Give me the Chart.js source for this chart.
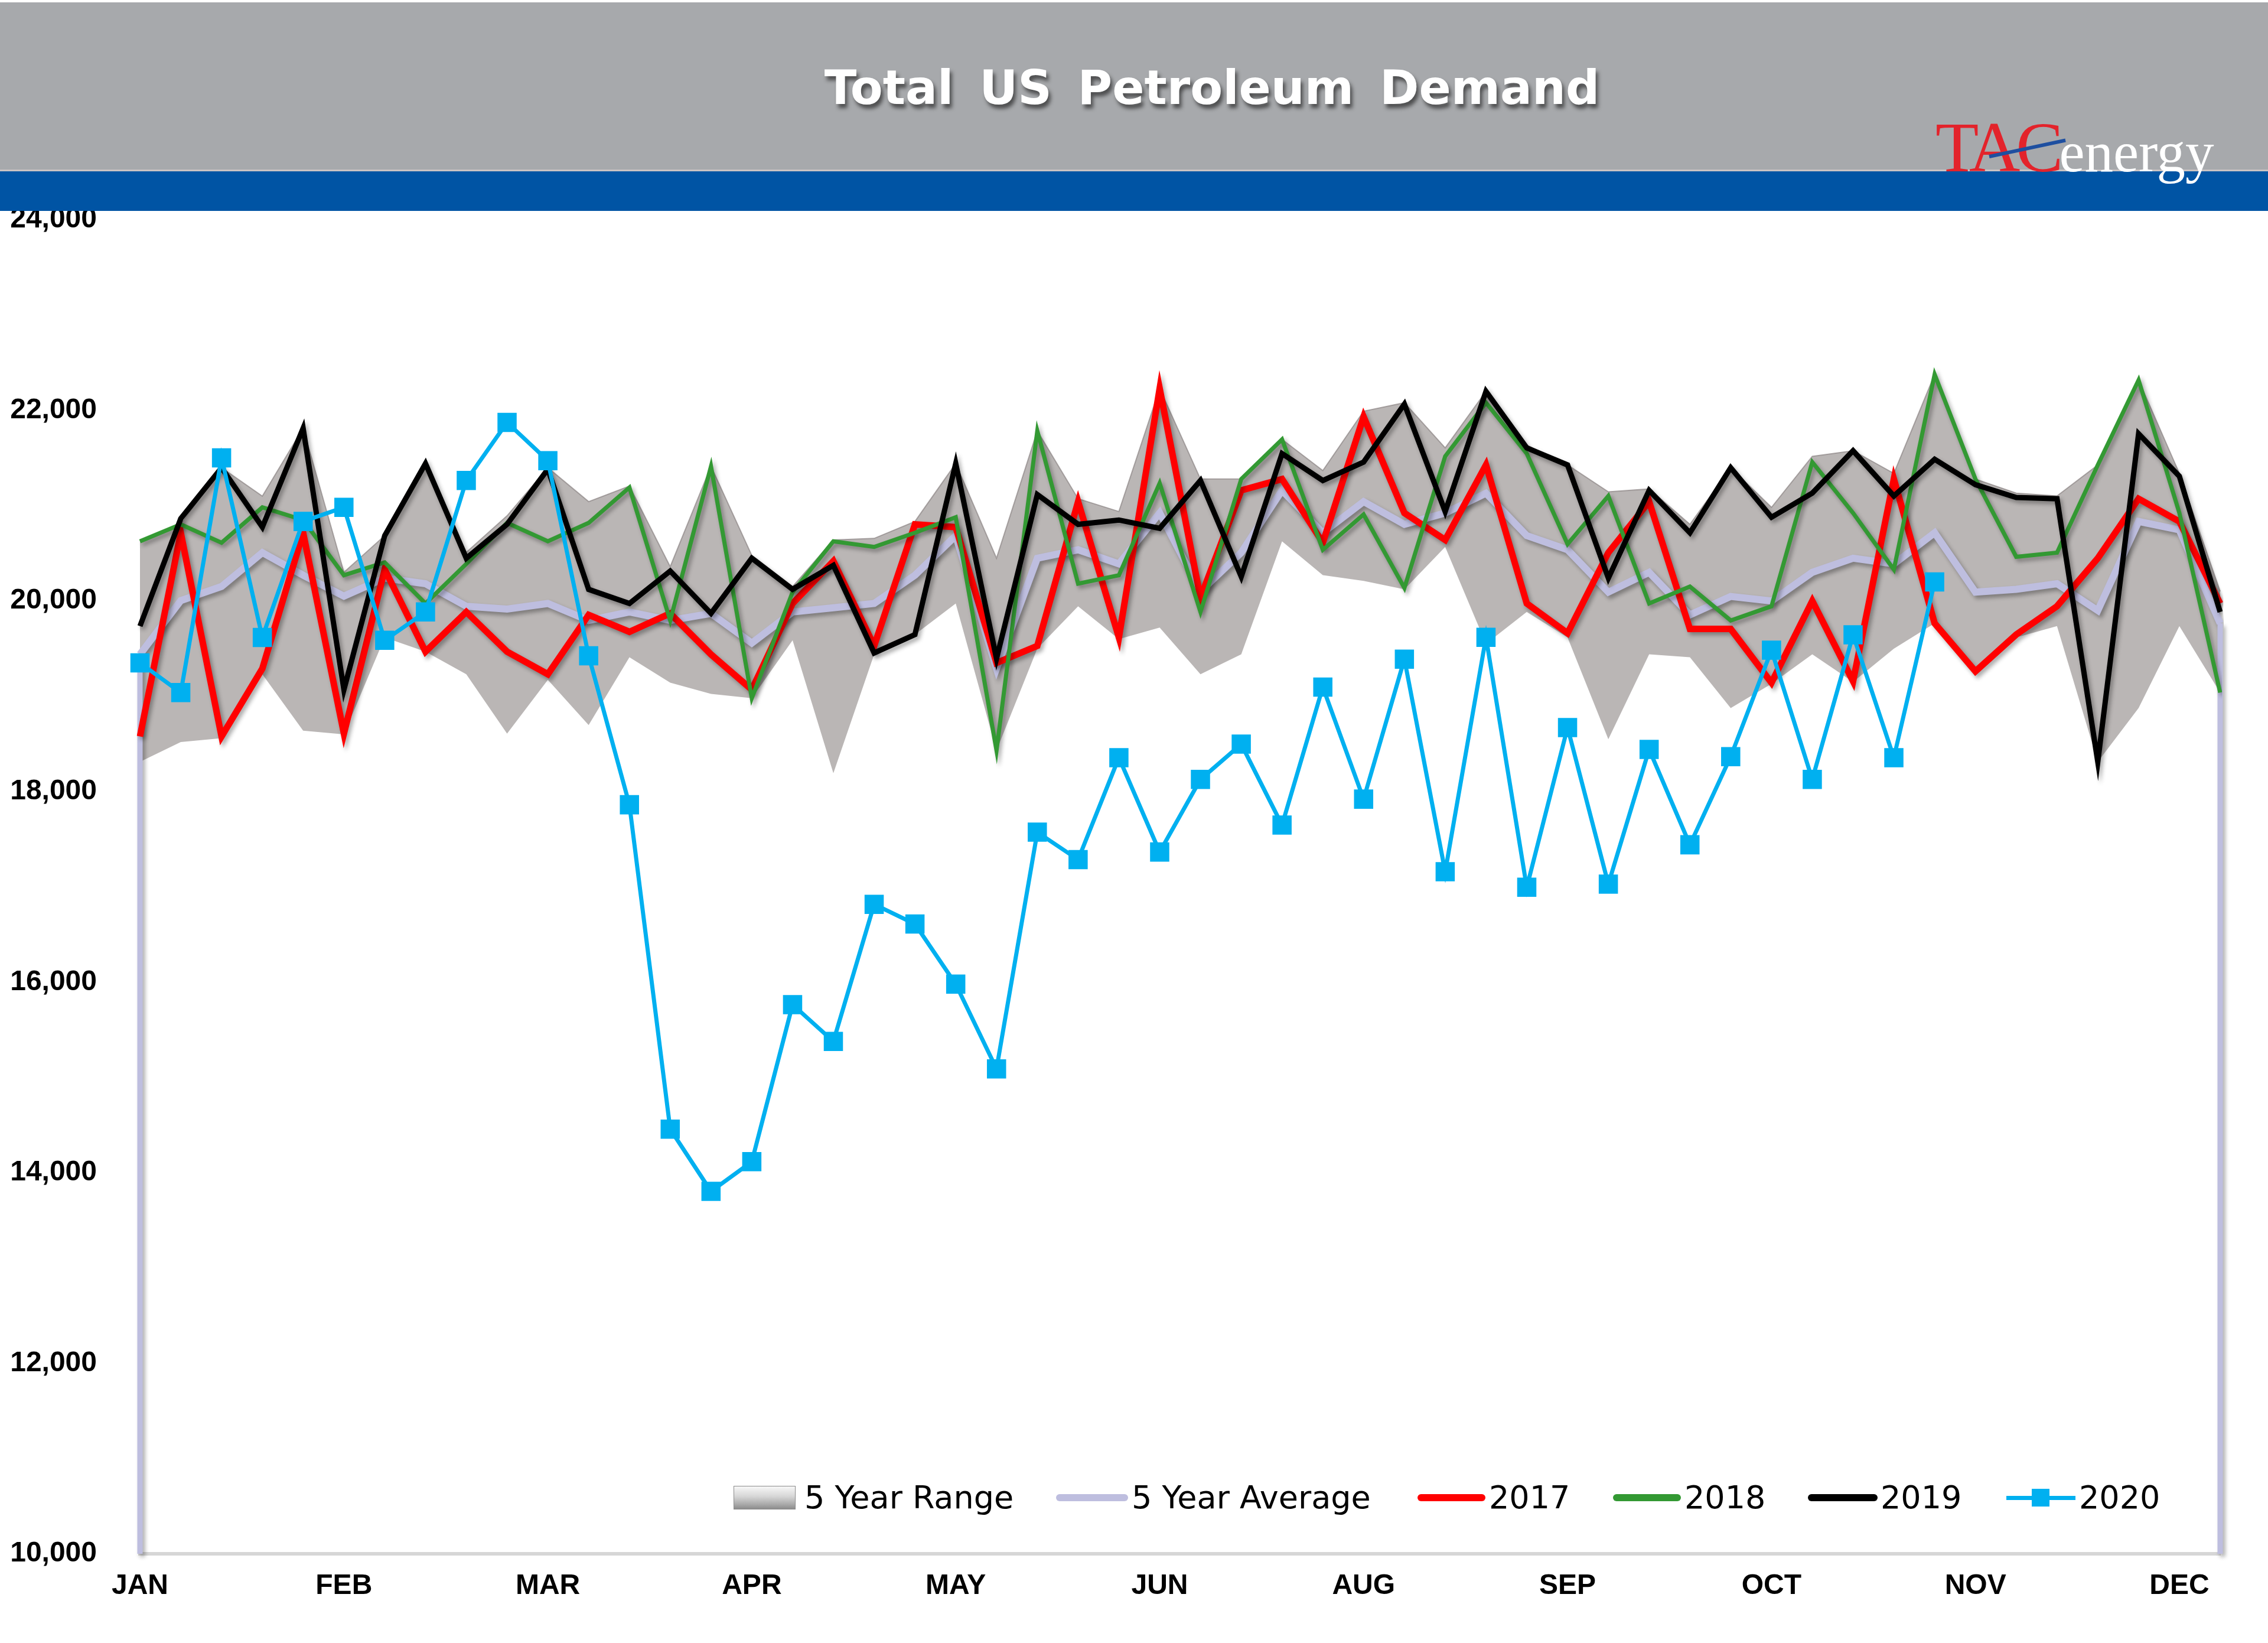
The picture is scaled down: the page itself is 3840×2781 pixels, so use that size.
<!DOCTYPE html>
<html><head><meta charset="utf-8">
<script src="https://cdn.jsdelivr.net/npm/chart.js@4.4.0/dist/chart.umd.min.js"></script>
<style>
html,body{margin:0;padding:0;background:#fff;}
#wrap{position:relative;width:3840px;height:2781px;overflow:hidden;background:#fff;}
#c{position:absolute;left:0;top:0;}
#hdr{position:absolute;left:0;top:0;width:3840px;height:357px;z-index:2;background:#fff;}
#grey{position:absolute;left:0;top:4px;width:3840px;height:283px;background:#A7A9AC;}
#sep{position:absolute;left:0;top:287px;width:3840px;height:3px;background:#C9C3C3;}
#blue{position:absolute;left:0;top:290px;width:3840px;height:67px;background:#0054A4;}
#title{position:absolute;left:2052px;top:109px;transform:translateX(-50%);font-family:'DejaVu Sans';font-weight:bold;font-size:80px;line-height:80px;color:#fff;word-spacing:16px;text-shadow:4px 7px 6px rgba(30,30,30,.65);white-space:nowrap;}
#logo{position:absolute;left:3277px;top:190px;font-family:'Liberation Serif';font-size:120px;line-height:120px;white-space:nowrap;z-index:3;}
#logo .tac{color:#E3232B;letter-spacing:-7px;}
#logo .en{color:#fff;font-size:97px;}
#swoosh{position:absolute;left:3368px;top:262px;width:132px;height:6px;background:#1E4FA0;transform:rotate(-12deg);transform-origin:left center;z-index:4;}
.lg{position:absolute;top:2505px;height:60px;line-height:60px;font-family:'DejaVu Sans';font-size:54px;color:#000;white-space:nowrap;z-index:2;}
.ln{position:absolute;top:2529px;height:12px;border-radius:6px;z-index:2;}
</style>
</head><body>
<div id="wrap">
<canvas id="c" width="3840" height="2781"></canvas>
<div id="hdr"><div id="grey"></div><div id="sep"></div><div id="blue"></div>
<div id="title">Total US Petroleum Demand</div></div>
<div id="logo"><span class="tac">TAC</span><span class="en">energy</span></div>
<div id="swoosh"></div>
<div style="position:absolute;left:1242px;top:2515px;width:103px;height:38px;border:1px solid #8a8a8a;background:linear-gradient(to bottom,#f7f7f7 0%,#d6d6d6 45%,#a9a9a9 80%,#8c8c8c 100%);z-index:2;"></div>
<div class="lg" style="left:1362px;">5 Year Range</div>
<div class="ln" style="left:1788px;width:122px;background:#BEBEDF;"></div>
<div class="lg" style="left:1916px;">5 Year Average</div>
<div class="ln" style="left:2400px;width:115px;background:#FF0000;"></div>
<div class="lg" style="left:2521px;">2017</div>
<div class="ln" style="left:2731px;width:115px;background:#339933;"></div>
<div class="lg" style="left:2852px;">2018</div>
<div class="ln" style="left:3061px;width:118px;background:#000;"></div>
<div class="lg" style="left:3184px;">2019</div>
<div class="ln" style="left:3397px;width:117px;height:7px;top:2532px;border-radius:0;background:#00B0F0;"></div>
<div style="position:absolute;left:3440px;top:2520px;width:30px;height:30px;background:#00B0F0;z-index:2;"></div>
<div class="lg" style="left:3520px;">2020</div>
</div>
<script>
// ---- data ----
const weeks = Array.from({length: 52}, (_, i) => 'W' + (i + 1));
const monthTicks = ['JAN','FEB','MAR','APR','MAY','JUN','AUG','SEP','OCT','NOV','DEC'];
const yTicks = [10000, 12000, 14000, 16000, 18000, 20000, 22000, 24000];

const rangeMin = [18311,18519,18560,19231,18638,18600,19617,19468,19231,18608,19172,18697,19409,19142,19024,18979,19587,18192,19439,19647,19973,18430,19500,19944,19600,19720,19231,19439,20626,20270,20210,20122,20567,19550,19884,19617,18548,19439,19409,18875,19130,19439,19150,19498,19765,19261,19617,19736,18311,18875,19736,19038];
const rangeMax = [20626,20804,21398,21100,21813,20300,20685,21442,20510,20893,21398,21042,21205,20359,21413,20478,20151,20640,20656,20834,21442,20448,21784,21072,20938,22229,21279,21279,21695,21368,21991,22080,21606,22199,21635,21427,21145,21175,20804,21398,20982,21517,21576,21338,22377,21279,21131,21101,21427,22318,21338,20100];
const avg5 = [19439,20003,20151,20507,20270,20050,20240,20181,19944,19914,19973,19795,19884,19795,19869,19558,19884,19928,19973,20270,20685,19290,20448,20537,20389,20923,20100,20507,21160,20715,21042,20804,20923,21131,20685,20537,20092,20300,19854,20047,19999,20300,20448,20389,20715,20092,20122,20181,19899,20834,20745,19765];
const y2017 = [18578,20715,18578,19290,20715,18608,20330,19468,19884,19468,19231,19854,19676,19869,19439,19068,19973,20418,19528,20804,20774,19350,19528,21042,19617,22229,20033,21160,21279,20611,21932,20923,20641,21427,19973,19662,20507,21042,19706,19706,19142,19999,19157,21279,19765,19261,19647,19944,20448,21072,20834,19973];
const y2018 = [20626,20804,20611,20982,20849,20270,20404,19973,20389,20819,20626,20819,21190,19795,21413,18979,20092,20626,20567,20715,20878,18430,21784,20181,20270,21235,19884,21279,21695,20537,20908,20136,21517,22080,21546,20596,21101,19973,20151,19795,19944,21457,20923,20329,22377,21279,20463,20507,21427,22318,20923,19038];
const y2019 = [19736,20864,21398,20775,21813,19068,20685,21442,20448,20804,21383,20121,19973,20314,19869,20448,20122,20374,19454,19647,21442,19394,21116,20804,20849,20762,21264,20255,21546,21264,21457,22066,20938,22199,21606,21427,20240,21160,20715,21398,20878,21131,21576,21101,21487,21220,21086,21072,18311,21754,21309,19884];
const y2020 = [19350,19038,21502,19617,20834,20982,19587,19884,21264,21873,21472,19424,17861,14457,13804,14115,15763,15377,16816,16609,15979,15089,17573,17285,18355,17365,18127,18497,17648,19095,17920,19389,17158,19618,16995,18671,17028,18442,17441,18366,19483,18127,19644,18355,20199,null,null,null,null,null,null,null];

// ---- plugin: shadows and end drop lines for the average ----
const fx = {
  id: 'fx',
  beforeDatasetDraw(chart, args) {
    const ds = chart.data.datasets[args.index];
    if (ds.shadow) {
      const ctx = chart.ctx;
      ctx.save();
      ctx.shadowColor = 'rgba(0,0,0,0.33)';
      ctx.shadowBlur = 7;
      ctx.shadowOffsetX = 4;
      ctx.shadowOffsetY = 5;
    }
  },
  afterDatasetDraw(chart, args) {
    const ds = chart.data.datasets[args.index];
    const ctx = chart.ctx;
    if (ds.dropLines) {
      const pts = args.meta.data;
      const yb = chart.scales.y.getPixelForValue(chart.scales.y.min);
      ctx.save();
      ctx.strokeStyle = ds.borderColor;
      ctx.lineWidth = 9;
      [pts[0], pts[pts.length - 1]].forEach(p => {
        ctx.beginPath(); ctx.moveTo(p.x, p.y); ctx.lineTo(p.x, yb); ctx.stroke();
      });
      ctx.restore();
    }
    if (ds.shadow) ctx.restore();
  }
};

const line = (label, data, color, width, order, extra) => Object.assign({
  label, data, borderColor: color, backgroundColor: color, borderWidth: width,
  pointRadius: 0, tension: 0, fill: false, order, shadow: true,
  borderJoinStyle: 'miter', borderCapStyle: 'butt'
}, extra || {});

new Chart(document.getElementById('c'), {
  type: 'line',
  data: {
    labels: weeks,
    datasets: [
      {label: 'min', data: rangeMin, borderWidth: 0, pointRadius: 0, fill: false, order: 6, tension: 0},
      {label: '5 Year Range', data: rangeMax, borderWidth: 2, borderColor: 'rgba(140,132,132,0.7)', backgroundColor: '#BAB6B5', pointRadius: 0, fill: '-1', order: 5, tension: 0},
      line('5 Year Average', avg5, '#BEBEDF', 12, 4, {dropLines: true}),
      line('2017', y2017, '#FF0000', 11, 3),
      line('2018', y2018, '#339933', 7, 2),
      line('2019', y2019, '#000000', 9, 1),
      line('2020', y2020, '#00B0F0', 7, 0, {pointRadius: 23, pointHoverRadius: 23, pointStyle: 'rect', pointBackgroundColor: '#00B0F0', pointBorderWidth: 0, spanGaps: false, shadow: false})
    ]
  },
  options: {
    responsive: false,
    animation: false,
    devicePixelRatio: 1,
    layout: {padding: {top: 372, right: 81, left: 0, bottom: 0}},
    plugins: {legend: {display: false}, tooltip: {enabled: false}, title: {display: false}},
    scales: {
      x: {
        type: 'category',
        offset: false,
        grid: {display: false, drawTicks: false},
        border: {display: true, color: '#D6D6D6', width: 6},
        ticks: {
          autoSkip: false, maxRotation: 0, minRotation: 0, padding: 26, color: '#000',
          font: {family: 'Liberation Sans', weight: 'bold', size: 48},
          callback: (v, i) => (i % 5 === 0 ? monthTicks[i / 5] : '')
        },
        afterFit: s => { s.height = 151; }
      },
      y: {
        min: yTicks[0], max: yTicks[yTicks.length - 1],
        grid: {display: false, drawTicks: false},
        border: {display: false},
        afterBuildTicks: s => { s.ticks = yTicks.map(v => ({value: v})); },
        ticks: {
          padding: 73, color: '#000',
          font: {family: 'Liberation Sans', weight: 'bold', size: 48},
          callback: v => Number(v).toLocaleString('en-US')
        },
        afterFit: s => { s.width = 237; }
      }
    }
  },
  plugins: [fx]
});
</script>
</body></html>
